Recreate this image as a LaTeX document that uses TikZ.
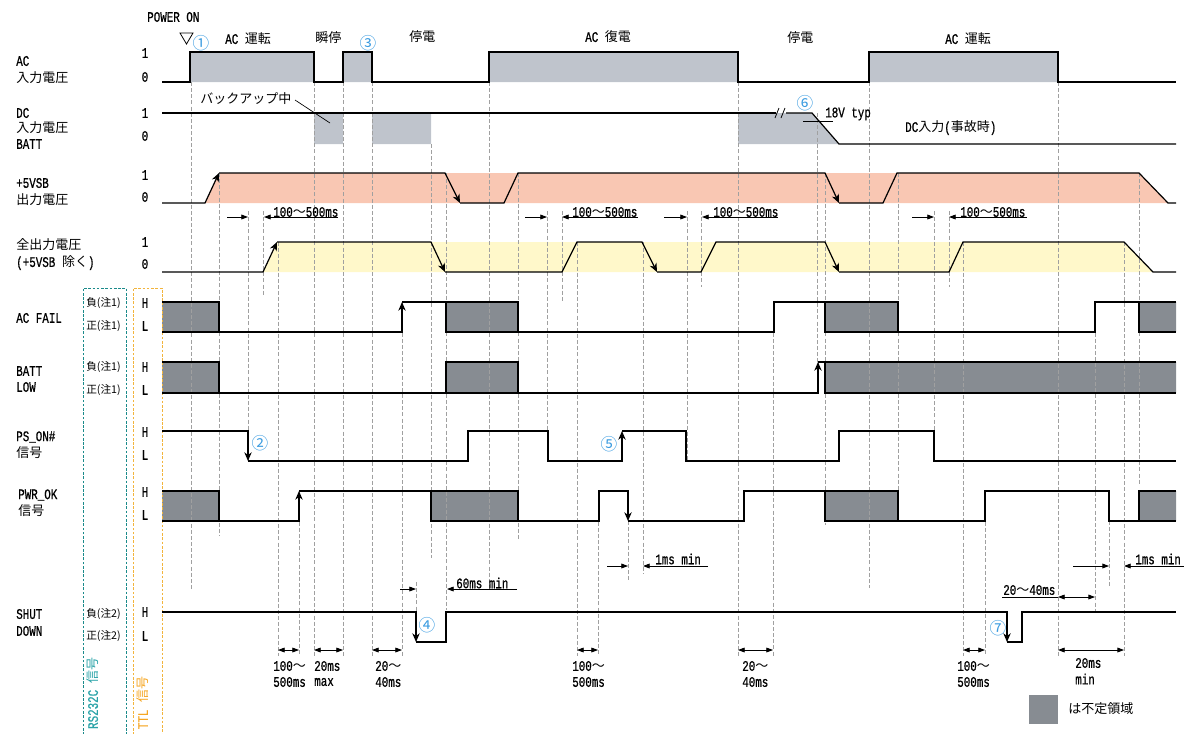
\documentclass[tikz,border=0pt]{standalone}
\usepackage{fontspec}
\setmainfont{Noto Sans CJK JP}
\newfontfamily\ltfam[FakeStretch=0.74,FakeBold=0.6]{Liberation Mono}
\usetikzlibrary{arrows.meta}
\definecolor{acfill}{HTML}{BFC4CC}
\definecolor{dkbox}{HTML}{878C92}
\definecolor{salmon}{HTML}{F9C7B3}
\definecolor{lyellow}{HTML}{FFF8CA}
\definecolor{numblue}{HTML}{3A9BE0}
\definecolor{tealbox}{HTML}{1A8A8A}
\definecolor{tealtxt}{HTML}{2AA3A8}
\definecolor{orgbox}{HTML}{F2B43C}
\definecolor{orgtxt}{HTML}{F5A623}
\definecolor{dashgray}{HTML}{A0A0A0}
\newcommand\lx[1]{{\ltfam\fontsize{11}{12}\selectfont #1}}
\newcommand\gp{\hspace{5pt}}
\begin{document}
\begin{tikzpicture}[x=0.75pt,y=-0.75pt,
  sig/.style={line width=0.9pt,line join=miter},
  ea/.style={-{Stealth[length=6.5pt,width=5.5pt,inset=2pt]}},
  dl/.style={draw=dashgray,line width=0.45pt,dash pattern=on 3pt off 1.6pt},
  dim/.style={line width=0.6pt,-{Triangle[length=5pt,width=3.6pt]}},
  ddim/.style={line width=0.6pt,{Triangle[length=5pt,width=3.6pt]}-{Triangle[length=5pt,width=3.6pt]}},
  txt/.style={inner sep=0pt,anchor=west,font=\fontsize{9.75}{11}\selectfont},
  lvl/.style={inner sep=0pt},
  pol/.style={inner sep=0pt,anchor=west,font=\fontsize{8}{9}\selectfont},
  num/.style={inner sep=0pt,text=numblue,font=\fontsize{12.5}{13}\selectfont},
  boxf/.style={fill=dkbox},
  boxd/.style={draw=black,line width=0.8pt}
]
\useasboundingbox (0,0) rectangle (1184,733);

% ---------- fills ----------
\fill[acfill] (190,52) rectangle (314,82) (343,52) rectangle (372,82) (489,52) rectangle (738,82) (869,52) rectangle (1058,82);
\fill[acfill] (314,113) rectangle (343,144) (372,113) rectangle (431,144);
\fill[acfill] (738,113) -- (812,113) -- (839,144) -- (738,144) -- cycle;
\fill[salmon] (205,203) -- (219,173) -- (1139,173) -- (1168,203) -- cycle;
\fill[lyellow] (263,272) -- (277,242) -- (1124,242) -- (1153,272) -- cycle;
% dark (undefined) boxes
\fill[boxf] (162,302) rectangle (219,332) (446,302) rectangle (518,332) (825,302) rectangle (898,332) (1139,302) rectangle (1176,332);
\fill[boxf] (162,362) rectangle (219,393) (446,362) rectangle (518,393) (825,362) rectangle (1176,393);
\fill[boxf] (162,491) rectangle (219,521) (431,491) rectangle (518,521) (825,491) rectangle (898,521) (1139,491) rectangle (1176,521);

% ---------- dashed guide lines ----------
\foreach \x/\a/\b in {191/82/589, 219/173/535, 248/211/460, 263/211/295, 278/242/656, 299/491/656,
  314/82/656, 343/82/656, 372/82/656, 402/302/656, 416/582/612, 431/144/558, 446/173/610,
  489/82/590, 518/173/540, 547/211/460, 562/211/301, 577/242/656, 598/491/656, 628/521/580,
  643/242/574, 687/211/460, 701/211/287, 738/82/656, 773/302/656, 817/113/393, 825/173/525,
  869/82/588, 898/173/521, 934/211/460, 949/211/287, 963/242/656, 985/491/656, 1058/82/656,
  1095/302/611, 1109/521/588, 1124/242/656, 1139/173/484}
  \draw[dl] (\x,\a) -- (\x,\b);

% RS232C / TTL boxes
\draw[tealbox,line width=0.7pt,dash pattern=on 2pt off 1.2pt] (83,735) -- (83,288) -- (126,288) -- (126,735);
\draw[orgbox,line width=0.7pt,dash pattern=on 2pt off 1.2pt] (133,735) -- (133,288) -- (162,288) -- (162,735);

% ---------- AC ----------
\draw[sig] (162,82) -- (190,82) -- (190,52) -- (314,52) -- (314,82) -- (343,82) -- (343,52) -- (372,52) -- (372,82) -- (489,82) -- (489,52) -- (738,52) -- (738,82) -- (869,82) -- (869,52) -- (1058,52) -- (1058,82) -- (1176,82);

% ---------- DC ----------
\draw[sig] (162,113) -- (776,113);
\draw[sig] (786,113) -- (812,113) -- (839,144) -- (1176,144);
\draw[line width=0.6pt] (775,118) -- (779,108) (781,118) -- (785,108);
\draw[line width=0.5pt] (295,100) -- (330,123);
\draw[line width=0.6pt] (803,121) -- (833,121);

% ---------- +5VSB ----------
\draw[sig,ea] (162,203) -- (205,203) -- (219,173);
\draw[sig,ea] (219,173) -- (445,173) -- (460,203);
\draw[sig,ea] (460,203) -- (504,203) -- (518,173) -- (825,173) -- (839,203);
\draw[sig] (839,203) -- (883,203) -- (897,173) -- (1139,173) -- (1168,203) -- (1176,203);

% ---------- all outputs ----------
\draw[sig,ea] (162,272) -- (263,272) -- (277,242);
\draw[sig,ea] (277,242) -- (431,242) -- (445,272);
\draw[sig,ea] (445,272) -- (562,272) -- (577,242) -- (642,242) -- (657,272);
\draw[sig,ea] (657,272) -- (701,272) -- (716,242) -- (825,242) -- (839,272);
\draw[sig] (839,272) -- (949,272) -- (963,242) -- (1124,242) -- (1153,272) -- (1176,272);

% ---------- AC FAIL ----------
\draw[boxd] (162,302) -- (219,302) -- (219,332);
\draw[boxd] (446,302) rectangle (518,332) (825,302) rectangle (898,332);
\draw[boxd] (1176,302) -- (1139,302) -- (1139,332) -- (1176,332);
\draw[sig,ea] (162,332) -- (402,332) -- (402,302);
\draw[sig] (402,302) -- (446,302);
\draw[sig] (518,332) -- (774,332) -- (774,302) -- (825,302);
\draw[sig] (898,332) -- (1095,332) -- (1095,302) -- (1139,302);

% ---------- BATT LOW ----------
\draw[boxd] (162,362) -- (219,362) -- (219,393);
\draw[boxd] (446,362) rectangle (518,393);
\draw[boxd] (1176,362) -- (825,362) -- (825,393) -- (1176,393);
\draw[sig] (162,393) -- (446,393);
\draw[sig,ea] (518,393) -- (818,393) -- (818,362);
\draw[sig] (818,362) -- (825,362);

% ---------- PS_ON# ----------
\draw[sig,ea] (162,431) -- (248,431) -- (248,461);
\draw[sig,ea] (248,461) -- (468,461) -- (468,431) -- (548,431) -- (548,461) -- (622,461) -- (622,431);
\draw[sig] (622,431) -- (686,431) -- (686,461) -- (839,461) -- (839,431) -- (934,431) -- (934,461) -- (1176,461);

% ---------- PWR_OK ----------
\draw[boxd] (162,491) -- (219,491) -- (219,521);
\draw[boxd] (431,491) rectangle (518,521) (825,491) rectangle (898,521);
\draw[boxd] (1176,491) -- (1139,491) -- (1139,521) -- (1176,521);
\draw[sig,ea] (162,521) -- (299,521) -- (299,491);
\draw[sig] (299,491) -- (431,491);
\draw[sig,ea] (518,521) -- (599,521) -- (599,491) -- (628,491) -- (628,521);
\draw[sig] (628,521) -- (744,521) -- (744,491) -- (825,491);
\draw[sig] (898,521) -- (985,521) -- (985,491) -- (1109,491) -- (1109,521) -- (1139,521);

% ---------- SHUTDOWN ----------
\draw[sig,ea] (162,612) -- (416,612) -- (416,642);
\draw[sig,ea] (416,642) -- (446,642) -- (446,612) -- (1007,612) -- (1007,642);
\draw[sig] (1007,642) -- (1022,642) -- (1022,612) -- (1176,612);

% ---------- dimensions ----------
\foreach \a/\b/\c/\d in {227/248/338/264, 525/547/638/562, 664/687/778/702, 912/934/1027/949}{
  \draw[dim] (\a,217) -- (\b,217);
  \draw[dim] (\c,217) -- (\d,217);
}
\draw[dim] (400,589) -- (416,589);
\draw[dim] (517,589) -- (447,589);
\draw[dim] (607,566) -- (628,566);
\draw[dim] (708,566) -- (643,566);
\draw[dim] (1073,566) -- (1109,566);
\draw[dim] (1184,566) -- (1124,566);
\draw[line width=0.6pt] (1002,597) -- (1058,597);
\draw[ddim] (1058,597) -- (1095,597);
\draw[ddim] (1058,650) -- (1124,650);
\foreach \a/\b in {278/299, 314/343, 372/402, 577/598, 738/773, 963/985}
  \draw[ddim] (\a,650) -- (\b,650);

% ---------- texts: top ----------
\node[txt] (pon) at (147,17) {\lx{POWER ON}};
\draw[line width=0.6pt] (180,33) -- (193,33) -- (186.5,44) -- cycle;
\node[num] (n1) at (201,43) {①};
\node[txt] (e1) at (225,39) {\lx{AC}\gp 運転};
\node[txt] (e2) at (315,38) {瞬停};
\node[num] (n3) at (368,43) {③};
\node[txt] (e3) at (409,37) {停電};
\node[txt] (e4) at (585,37) {\lx{AC}\gp 復電};
\node[txt] (e5) at (787,38) {停電};
\node[txt] (e6) at (945,39) {\lx{AC}\gp 運転};
\node[txt] (bku) at (200,99) {バックアップ中};
\node[num] (n6) at (805,103) {⑥};
\node[txt] (v18) at (825,114) {\lx{18V typ}};
\node[txt] (dcin) at (905,128) {\lx{DC}入力\lx{(}事故時\lx{)}};

% ---------- row labels ----------
\node[txt] (a1) at (16,61) {\lx{AC}};
\node[txt] (a2) at (16,78) {入力電圧};
\node[txt] (d1) at (16,113) {\lx{DC}};
\node[txt] (d2) at (16,128) {入力電圧};
\node[txt] (d3) at (16,144) {\lx{BATT}};
\node[txt] (s1) at (16,183) {\lx{+5VSB}};
\node[txt] (s2) at (16,200) {出力電圧};
\node[txt] (o1) at (16,245) {全出力電圧};
\node[txt] (o2) at (16,263) {\lx{(+5VSB}\gp 除く\lx{)}};
\node[txt] (f1) at (16,318) {\lx{AC FAIL}};
\node[txt] (b1) at (16,371) {\lx{BATT}};
\node[txt] (b2) at (16,387) {\lx{LOW}};
\node[txt] (p1) at (16,437) {\lx{PS\_ON\#}};
\node[txt] (p2) at (16,453) {信号};
\node[txt] (w1) at (18,495) {\lx{PWR\_OK}};
\node[txt] (w2) at (18,511) {信号};
\node[txt] (h1) at (16,614) {\lx{SHUT}};
\node[txt] (h2) at (16,631) {\lx{DOWN}};

% level labels
\foreach \n/\y/\t in {la1/53/1, la0/77/0, ld1/113/1, ld0/136/0, ls1/175/1, ls0/197/0, lo1/242/1, lo0/264/0,
  lfh/303/H, lfl/326/L, lbh/367/H, lbl/390/L, lph/432/H, lpl/455/L, lwh/492/H, lwl/515/L, lhh/612/H, lhl/636/L}
  \node[lvl] (\n) at (145,\y) {\lx{\t}};

% polarity
\node[pol] (q1) at (86,303) {負(注1)};
\node[pol] (q2) at (86,326) {正(注1)};
\node[pol] (q3) at (86,367) {負(注1)};
\node[pol] (q4) at (86,390) {正(注1)};
\node[pol] (q5) at (86,614) {負(注2)};
\node[pol] (q6) at (86,636) {正(注2)};

% vertical labels
\node[inner sep=0pt,rotate=90,text=tealtxt,font=\fontsize{9.75}{11}\selectfont] (rs) at (93,693) {\lx{RS232C}\gp 信号};
\node[inner sep=0pt,rotate=90,text=orgtxt,font=\fontsize{9.75}{11}\selectfont] (ttl) at (143,703) {\lx{TTL}\gp 信号};

% circled markers
\node[num] (n2) at (260,443) {②};
\node[num] (n4) at (427,625) {④};
\node[num] (n5) at (609,444) {⑤};
\node[num] (n7) at (998,628) {⑦};

% dimension texts
\node[txt] (m1) at (273,212) {\lx{100}～\lx{500ms}};
\node[txt] (m2) at (572,212) {\lx{100}～\lx{500ms}};
\node[txt] (m3) at (713,212) {\lx{100}～\lx{500ms}};
\node[txt] (m4) at (960,212) {\lx{100}～\lx{500ms}};
\node[txt] (m5) at (456,583) {\lx{60ms min}};
\node[txt] (m6) at (655,559) {\lx{1ms min}};
\node[txt] (m7) at (1135,559) {\lx{1ms min}};
\node[txt] (m8) at (1003,590) {\lx{20}～\lx{40ms}};
\node[txt] (m9) at (1075,663) {\lx{20ms}};
\node[txt] (m10) at (1075,679) {\lx{min}};
\foreach \n/\x/\ta/\tb in {k1/273/100/500ms, k3/375/20/40ms, k4/572/100/500ms, k5/742/20/40ms, k6/957/100/500ms}{
  \node[txt] (\n a) at (\x,666) {\lx{\ta}～};
  \node[txt] (\n b) at (\x,682) {\lx{\tb}};
}
\node[txt] (k2a) at (314,666) {\lx{20ms}};
\node[txt] (k2b) at (314,682) {\lx{max}};

% legend
\fill[dkbox] (1029,695) rectangle (1058,724);
\node[txt] (leg) at (1068,709) {は不定領域};
\end{tikzpicture}
\end{document}
